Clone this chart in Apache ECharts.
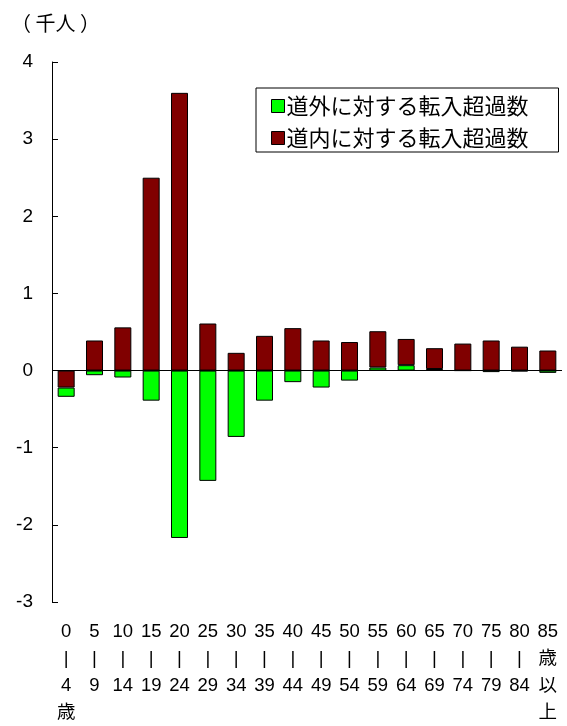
<!DOCTYPE html>
<html>
<head>
<meta charset="utf-8">
<script src="https://cdn.jsdelivr.net/npm/echarts@6/dist/echarts.min.js"></script>
<style>
  html, body { margin: 0; padding: 0; background: #fff; }
  #chart { width: 567px; height: 726px; }
</style>
</head>
<body>
<div id="chart"></div>
<script>
// 年齢階級（5歳階級）
const ageLabels = [
  '0\n|\n4\n歳', '5\n|\n9', '10\n|\n14', '15\n|\n19', '20\n|\n24', '25\n|\n29',
  '30\n|\n34', '35\n|\n39', '40\n|\n44', '45\n|\n49', '50\n|\n54', '55\n|\n59',
  '60\n|\n64', '65\n|\n69', '70\n|\n74', '75\n|\n79', '80\n|\n84', '85\n歳\n以\n上'
];

// 道外に対する転入超過数（千人）
const outsideNet = [-0.12, -0.06, -0.09, -0.39, -2.17, -1.43, -0.86, -0.39, -0.15,
                    -0.22, -0.13, 0.04, 0.07, 0.02, 0.00, -0.02, -0.01, -0.03];

// 道内に対する転入超過数（千人）
const insideNet = [-0.22, 0.39, 0.56, 2.50, 3.60, 0.61, 0.23, 0.45, 0.55,
                   0.39, 0.37, 0.47, 0.34, 0.27, 0.35, 0.39, 0.31, 0.26];

const yTicks = { min: -3, max: 4, step: 1 };

const NAME_OUT = '道外に対する転入超過数';
const NAME_IN = '道内に対する転入超過数';
const GREEN = '#00ff00';
const MAROON = '#800000';

const LATIN = "'Liberation Sans', Arial, 'Noto Sans CJK JP', sans-serif";
const CJK = "'Noto Sans CJK JP', 'Liberation Sans', sans-serif";

// 道内の負の値はゼロ側に、正の値は道外の上に積み上げる
const insideNeg = insideNet.map(v => (v < 0 ? v : '-'));
const insidePos = insideNet.map(v => (v >= 0 ? v : '-'));

const barStyle = color => ({ color: color, borderColor: '#000', borderWidth: 1 });

const chart = echarts.init(document.getElementById('chart'), null, { renderer: 'canvas' });

chart.setOption({
  animation: false,
  backgroundColor: '#fff',
  title: {
    text: '（ 千人 ）',
    left: 6,
    top: 8,
    textStyle: { fontFamily: CJK, fontSize: 20, fontWeight: 'normal', color: '#000' }
  },
  legend: {
    data: [NAME_OUT, NAME_IN],
    orient: 'vertical',
    left: 256,
    top: 88,
    padding: [6, 4, 2, 15],
    itemGap: 8,
    itemWidth: 13,
    itemHeight: 13,
    icon: 'rect',
    backgroundColor: '#fff',
    borderColor: '#000',
    borderWidth: 1,
    borderRadius: 0,
    itemStyle: { borderColor: '#000', borderWidth: 1 },
    textStyle: {
      fontFamily: CJK, fontSize: 22, color: '#000',
      lineHeight: 24, width: 268, padding: [0, 0, 0, -3]
    }
  },
  grid: { left: 52, right: 5, top: 62, bottom: 123, containLabel: false },
  xAxis: {
    type: 'category',
    data: ageLabels,
    axisLine: { show: false, onZero: false },
    axisTick: { show: false },
    axisLabel: {
      interval: 0,
      margin: 16,
      fontFamily: LATIN,
      fontSize: 18.5,
      lineHeight: 27,
      color: '#000',
      align: 'center'
    }
  },
  yAxis: {
    type: 'value',
    min: yTicks.min,
    max: yTicks.max,
    interval: yTicks.step,
    axisLine: { show: true, lineStyle: { color: '#000', width: 1 } },
    axisTick: { show: true, inside: true, length: 6, lineStyle: { color: '#000' } },
    splitLine: { show: false },
    axisLabel: { margin: 19, fontFamily: LATIN, fontSize: 19, color: '#000' }
  },
  series: [
    {
      name: NAME_IN,
      type: 'bar',
      stack: 'net',
      barWidth: '60%',
      data: insideNeg,
      itemStyle: barStyle(MAROON)
    },
    {
      name: NAME_OUT,
      type: 'bar',
      stack: 'net',
      barWidth: '60%',
      data: outsideNet,
      itemStyle: barStyle(GREEN)
    },
    {
      name: NAME_IN,
      type: 'bar',
      stack: 'net',
      barWidth: '60%',
      data: insidePos,
      itemStyle: barStyle(MAROON),
      markLine: {
        silent: true,
        symbol: 'none',
        label: { show: false },
        lineStyle: { color: '#000', width: 1, type: 'solid' },
        data: [{ yAxis: 0 }]
      }
    }
  ]
});
</script>
</body>
</html>
